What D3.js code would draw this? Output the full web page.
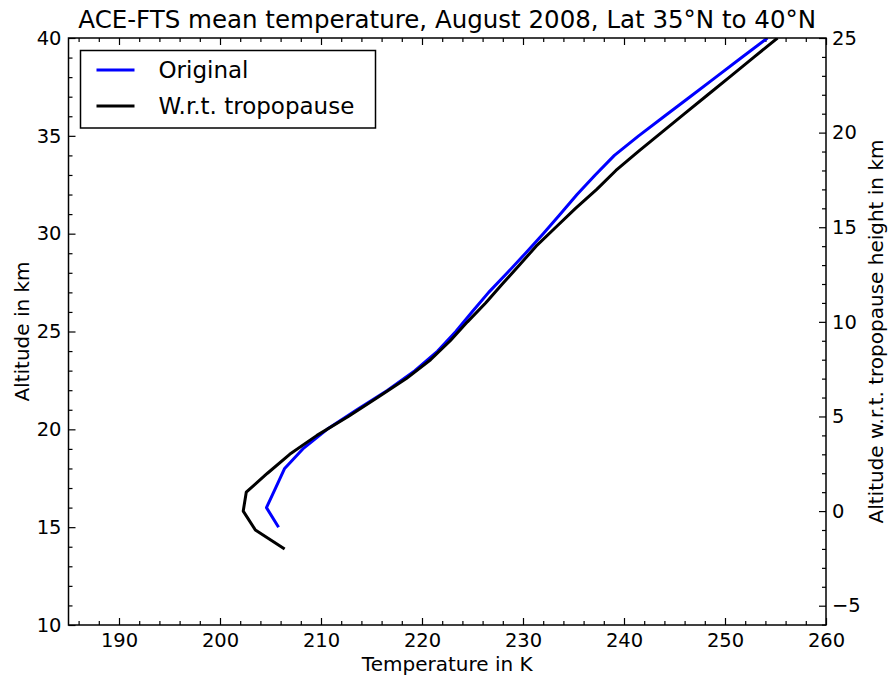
<!DOCTYPE html>
<html>
<head>
<meta charset="utf-8">
<script src="https://cdn.jsdelivr.net/npm/d3@7"></script>
<style>
  body { margin: 0; background: #fff; }
  svg { display: block; font-family: "DejaVu Sans", sans-serif; }
</style>
</head>
<body>
<svg id="chart" width="890" height="679"></svg>
<script>
// --- data ---
// Original profile: altitude (km) and mean temperature (K)
const origAlt  = [15, 16, 17, 18, 19, 20, 21, 22, 23, 24, 25, 26, 27, 28, 29, 30, 31, 32, 33, 34, 35, 36, 37, 38, 39, 40];
const origTemp = [205.8, 204.6, 205.5, 206.4, 208.2, 210.6, 213.55, 216.6, 219.3, 221.55, 223.35, 224.95, 226.6, 228.45, 230.25, 232.0,
                  233.7, 235.35, 237.15, 239.05, 241.45, 244.0, 246.55, 249.1, 251.65, 254.2];
// Profile relative to tropopause: altitude w.r.t. tropopause (km), temperature (K)
const tropAlt  = [-2, -1, 0, 1, 2, 3, 4, 5, 6, 7, 8, 9, 10, 11, 12, 13, 14, 15, 16, 17, 18, 19, 20, 21, 22, 23, 24, 25];
const tropTemp = [206.4, 203.5, 202.3, 202.6, 204.7, 206.9, 209.6, 212.7, 215.6, 218.45, 220.85, 222.8, 224.5, 226.3,
                  227.95, 229.65, 231.3, 233.25, 235.2, 237.3, 239.2, 241.4, 243.7, 246.0, 248.3, 250.6, 252.9, 255.2];

const xMajor = [190, 200, 210, 220, 230, 240, 250, 260];
const yLeftMajor = [10, 15, 20, 25, 30, 35, 40];
const yRightMajor = [-5, 0, 5, 10, 15, 20, 25];

const W = 890, H = 679;
const margin = { top: 38, right: 64, bottom: 54, left: 68.5 };
const x0 = margin.left, x1 = W - margin.right, y0 = margin.top, y1 = H - margin.bottom;

const svg = d3.select("#chart");

const x = d3.scaleLinear().domain([185, 260]).range([x0, x1]);
const yL = d3.scaleLinear().domain([10, 40]).range([y1, y0]);
const yR = d3.scaleLinear().domain([-6.02, 25]).range([y1, y0]);

const xMinor = d3.range(186, 260, 2).filter(v => v % 10 !== 0);
const yLeftMinor = d3.range(11, 40, 1).filter(v => v % 5 !== 0);
const yRightMinor = d3.range(-6, 25, 1).filter(v => v % 5 !== 0);

const fontTick = "19.5px";

function styleAxis(g) {
  g.select(".domain").remove();
  g.selectAll(".tick line").attr("stroke", "#000").attr("stroke-width", 1.2);
  g.selectAll(".tick text").attr("fill", "#000").style("font-size", fontTick)
    .style("font-family", "'DejaVu Sans', sans-serif");
}

// bottom axis
svg.append("g").attr("transform", `translate(0,${y1})`)
  .call(d3.axisBottom(x).tickValues(xMajor).tickSize(-7).tickSizeOuter(0).tickPadding(8).tickFormat(d3.format("d")))
  .call(styleAxis);
svg.append("g").attr("transform", `translate(0,${y1})`)
  .call(d3.axisBottom(x).tickValues(xMinor).tickSize(-4).tickSizeOuter(0).tickFormat(""))
  .call(styleAxis);
// top axis (ticks only)
svg.append("g").attr("transform", `translate(0,${y0})`)
  .call(d3.axisTop(x).tickValues(xMajor).tickSize(-7).tickSizeOuter(0).tickFormat(""))
  .call(styleAxis);
svg.append("g").attr("transform", `translate(0,${y0})`)
  .call(d3.axisTop(x).tickValues(xMinor).tickSize(-4).tickSizeOuter(0).tickFormat(""))
  .call(styleAxis);
// left axis
svg.append("g").attr("transform", `translate(${x0},0)`)
  .call(d3.axisLeft(yL).tickValues(yLeftMajor).tickSize(-7).tickSizeOuter(0).tickPadding(7).tickFormat(d3.format("d")))
  .call(styleAxis);
svg.append("g").attr("transform", `translate(${x0},0)`)
  .call(d3.axisLeft(yL).tickValues(yLeftMinor).tickSize(-4).tickSizeOuter(0).tickFormat(""))
  .call(styleAxis);
// right axis
svg.append("g").attr("transform", `translate(${x1},0)`)
  .call(d3.axisRight(yR).tickValues(yRightMajor).tickSize(-7).tickSizeOuter(0).tickPadding(6).tickFormat(d3.format("d")))
  .call(styleAxis);
svg.append("g").attr("transform", `translate(${x1},0)`)
  .call(d3.axisRight(yR).tickValues(yRightMinor).tickSize(-4).tickSizeOuter(0).tickFormat(""))
  .call(styleAxis);

// clip + lines
svg.append("clipPath").attr("id", "plotclip")
  .append("rect").attr("x", x0).attr("y", y0).attr("width", x1 - x0).attr("height", y1 - y0);

const plot = svg.append("g").attr("clip-path", "url(#plotclip)");

const lineOrig = d3.line().x(d => x(d[1])).y(d => yL(d[0]));
const lineTrop = d3.line().x(d => x(d[1])).y(d => yR(d[0]));

plot.append("path")
  .datum(d3.zip(origAlt, origTemp))
  .attr("d", lineOrig)
  .attr("fill", "none").attr("stroke", "#0000ff").attr("stroke-width", 3)
  .attr("stroke-linejoin", "round");

plot.append("path")
  .datum(d3.zip(tropAlt, tropTemp))
  .attr("d", lineTrop)
  .attr("fill", "none").attr("stroke", "#000").attr("stroke-width", 3)
  .attr("stroke-linejoin", "round");

// frame
svg.append("rect")
  .attr("x", x0).attr("y", y0).attr("width", x1 - x0).attr("height", y1 - y0)
  .attr("fill", "none").attr("stroke", "#000").attr("stroke-width", 1.5);

// title & labels
svg.append("text")
  .attr("x", (x0 + x1) / 2).attr("y", 28)
  .attr("text-anchor", "middle").style("font-size", "24.5px").attr("fill", "#000")
  .text("ACE-FTS mean temperature, August 2008, Lat 35°N to 40°N");

svg.append("text")
  .attr("x", (x0 + x1) / 2).attr("y", 671)
  .attr("text-anchor", "middle").style("font-size", "20px").attr("fill", "#000")
  .text("Temperature in K");

svg.append("text")
  .attr("transform", `translate(29,${(y0 + y1) / 2}) rotate(-90)`)
  .attr("text-anchor", "middle").style("font-size", "20px").attr("fill", "#000")
  .text("Altitude in km");

svg.append("text")
  .attr("transform", `translate(883,${(y0 + y1) / 2}) rotate(-90)`)
  .attr("text-anchor", "middle").style("font-size", "20px").attr("fill", "#000")
  .text("Altitude w.r.t. tropopause height in km");

// legend
const legendItems = [
  { label: "Original", color: "#0000ff" },
  { label: "W.r.t. tropopause", color: "#000" }
];
const leg = svg.append("g").attr("transform", "translate(80.5,50.5)");
leg.append("rect").attr("width", 295).attr("height", 77.5)
  .attr("fill", "#fff").attr("stroke", "#000").attr("stroke-width", 1.5);
legendItems.forEach((d, i) => {
  const yy = 19.5 + i * 36;
  leg.append("line").attr("x1", 16).attr("x2", 54).attr("y1", yy).attr("y2", yy)
    .attr("stroke", d.color).attr("stroke-width", 3);
  leg.append("text").attr("x", 78).attr("y", yy + 8.3)
    .style("font-size", "23px").attr("fill", "#000").text(d.label);
});
</script>
</body>
</html>
